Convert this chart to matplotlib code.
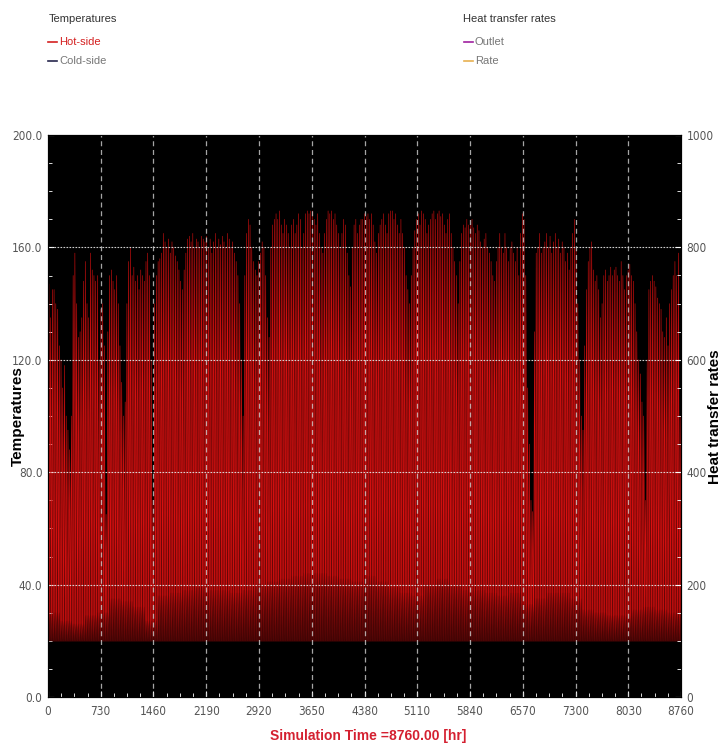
import numpy as np
import matplotlib
matplotlib.use('Agg')
import matplotlib.pyplot as plt
from matplotlib.lines import Line2D
from matplotlib.ticker import MultipleLocator, FormatStrFormatter

# Daily peak of the hot-side temperature, one list per month
hot_jan = [147, 135, 145, 145, 140, 138, 125, 120, 110, 118, 100, 95, 88, 100, 150, 158,
           140, 128, 130, 135, 148, 155, 140, 135, 158, 152, 150, 148, 150, 120, 138]
hot_feb = [140, 125, 65, 130, 150, 152, 148, 145, 150, 140, 125, 112, 100, 105, 140, 155,
           160, 150, 153, 148, 150, 145, 152, 150, 148, 155, 158, 150]
hot_mar = [120, 70, 140, 150, 155, 156, 158, 165, 162, 160, 163, 158, 162, 160, 157, 155,
           152, 148, 145, 152, 158, 163, 164, 162, 165, 160, 163, 162, 160, 164, 163]
hot_apr = [162, 164, 160, 163, 158, 162, 165, 160, 163, 161, 164, 162, 160, 165, 163, 160,
           162, 158, 155, 150, 140, 120, 100, 150, 165, 170, 168, 160, 155, 152]
hot_may = [150, 155, 158, 162, 160, 150, 135, 128, 160, 168, 170, 172, 170, 173, 168, 165,
           170, 168, 165, 160, 168, 170, 165, 168, 172, 170, 160, 165, 172, 173, 172]
hot_jun = [173, 173, 170, 168, 172, 165, 160, 158, 165, 170, 173, 172, 173, 170, 172, 168,
           165, 160, 165, 170, 168, 158, 150, 146, 160, 168, 170, 165, 168, 170]
hot_jul = [170, 172, 171, 172, 170, 172, 168, 162, 158, 165, 168, 170, 172, 168, 165, 172,
           173, 173, 170, 172, 168, 165, 170, 165, 160, 150, 145, 140, 150, 160, 166]
hot_aug = [170, 172, 168, 173, 172, 170, 165, 168, 170, 172, 173, 170, 172, 173, 171, 172,
           168, 165, 170, 172, 165, 160, 155, 150, 140, 155, 165, 168, 167, 170, 168]
hot_sep = [168, 170, 167, 165, 168, 166, 162, 160, 163, 165, 160, 158, 155, 150, 148, 155,
           160, 165, 160, 158, 165, 160, 155, 160, 162, 158, 155, 160, 150, 165]
hot_oct = [172, 170, 150, 110, 90, 70, 66, 130, 158, 160, 165, 158, 160, 162, 165, 160,
           164, 158, 162, 165, 160, 163, 158, 162, 160, 155, 158, 152, 160, 165, 170]
hot_nov = [160, 140, 120, 100, 95, 125, 145, 155, 160, 162, 152, 148, 150, 145, 135, 140,
           150, 152, 148, 150, 153, 150, 152, 153, 150, 148, 155, 150, 145, 150]
hot_dec = [152, 154, 150, 148, 140, 130, 120, 115, 105, 100, 70, 120, 145, 148, 150, 148,
           146, 142, 140, 138, 130, 128, 135, 125, 140, 145, 150, 155, 150, 158, 100]

# Weekly peak of the cold-side temperature
cold_week = [30, 27, 26, 29, 30, 35, 34, 32, 27, 36, 37, 38, 39, 38, 38, 37, 38, 40,
             41, 42, 43, 44, 44, 43, 42, 41, 43, 41, 39, 37, 36, 40, 42, 40, 38, 38,
             37, 36, 37, 33, 35, 37, 37, 35, 31, 30, 29, 29, 31, 32, 31, 30, 31]

# Night-time level both sides fall back to
t_floor = 20.0

x_ticks = [0, 730, 1460, 2190, 2920, 3650, 4380, 5110, 5840, 6570, 7300, 8030, 8760]
temp_ticks = [0, 40, 80, 120, 160, 200]
rate_ticks = [0, 200, 400, 600, 800, 1000]

hot_peak = np.array(hot_jan + hot_feb + hot_mar + hot_apr + hot_may + hot_jun +
                    hot_jul + hot_aug + hot_sep + hot_oct + hot_nov + hot_dec, dtype=float)
n_days = len(hot_peak)
cold_peak = np.repeat(np.array(cold_week, dtype=float), 7)[:n_days]

# hourly time axis: each day starts at the floor and peaks at noon
t = np.empty(2 * n_days + 1)
t[0::2] = np.arange(n_days + 1) * 24.0
t[1::2] = np.arange(n_days) * 24.0 + 12.0
hot = np.full(2 * n_days + 1, t_floor)
hot[1::2] = hot_peak
cold = np.full(2 * n_days + 1, t_floor)
cold[1::2] = cold_peak

plt.rcParams['font.family'] = ['Liberation Sans', 'DejaVu Sans']

fig = plt.figure(figsize=(7.27, 7.46), dpi=100)
ax = fig.add_axes([48 / 727, 49 / 746, 633 / 727, 562 / 746])
ax.set_facecolor('black')

ax.fill_between(t, t_floor, hot, color='#7c0909', lw=0, zorder=1)
ax.plot(t, hot, color='#dc1010', lw=0.4, zorder=2)
ax.fill_between(t, t_floor, cold, color='#240202', alpha=0.7, lw=0, zorder=3)
ax.plot(t, cold, color='#4a0606', lw=0.3, alpha=0.5, zorder=3)

# grid drawn over the traces
for v in x_ticks[1:-1]:
    ax.axvline(v, color='#cfcfcf', ls=(0, (4, 3)), lw=0.9, alpha=0.8, zorder=5)
for h in temp_ticks[1:-1]:
    ax.axhline(h, color='#e6e6e6', ls=(0, (1.5, 1.2)), lw=0.8, alpha=0.9, zorder=5)

ax.set_xlim(0, 8760)
ax.set_ylim(0, 200)
ax.set_xticks(x_ticks)
ax.set_yticks(temp_ticks)
ax.yaxis.set_major_formatter(FormatStrFormatter('%.1f'))
ax.xaxis.set_minor_locator(MultipleLocator(182.5))
ax.yaxis.set_minor_locator(MultipleLocator(10))
ax.tick_params(which='both', direction='in', color='white', labelcolor='#555555',
               labelsize=8.5)
ax.tick_params(axis='x', pad=6)
ax.tick_params(axis='y', pad=4)
ax.tick_params(which='major', length=4)
ax.tick_params(which='minor', length=3)
for s in ax.spines.values():
    s.set_color('black')

ax2 = ax.twinx()
ax2.set_ylim(0, 1000)
ax2.set_yticks(rate_ticks)
ax2.yaxis.set_minor_locator(MultipleLocator(50))
ax2.tick_params(which='both', direction='in', color='white', labelcolor='#555555',
                labelsize=8.5, pad=4)
ax2.tick_params(which='major', length=4)
ax2.tick_params(which='minor', length=3)

# condensed digits on all tick labels
for lab in ax.get_xticklabels() + ax.get_yticklabels() + ax2.get_yticklabels():
    lab.set_family('DejaVu Sans')
    lab.set_stretch('condensed')

# axis titles
fig.text(18 / 727, 1 - 416 / 746, 'Temperatures', fontsize=11, fontweight='bold',
         color='black', rotation=90, ha='center', va='center')
fig.text(715 / 727, 1 - 417 / 746, 'Heat transfer rates', fontsize=11, fontweight='bold',
         color='black', rotation=90, ha='center', va='center')
fig.text(368 / 727, 1 - 736 / 746, 'Simulation Time =8760.00 [hr]', fontsize=10,
         fontweight='bold', color='#d42030', ha='center', va='center')

# header legends
def legend_entry(x, y, colour, label, text_colour):
    fig.add_artist(Line2D([x / 727, (x + 9) / 727], [1 - y / 746, 1 - y / 746],
                          color=colour, lw=1.2))
    fig.text((x + 11) / 727, 1 - y / 746, label, fontsize=8, color=text_colour,
             va='center', ha='left')

fig.text(49 / 727, 1 - 19 / 746, 'Temperatures', fontsize=8, color='#333333',
         va='center', ha='left')
legend_entry(48, 42, '#d42020', 'Hot-side', '#d42020')
legend_entry(48, 61, '#26264d', 'Cold-side', '#777777')

fig.text(463 / 727, 1 - 19 / 746, 'Heat transfer rates', fontsize=8, color='#333333',
         va='center', ha='left')
legend_entry(464, 42, '#a020a0', 'Outlet', '#777777')
legend_entry(464, 61, '#e8b050', 'Rate', '#777777')

fig.savefig('out.png', dpi=100, facecolor='white')
